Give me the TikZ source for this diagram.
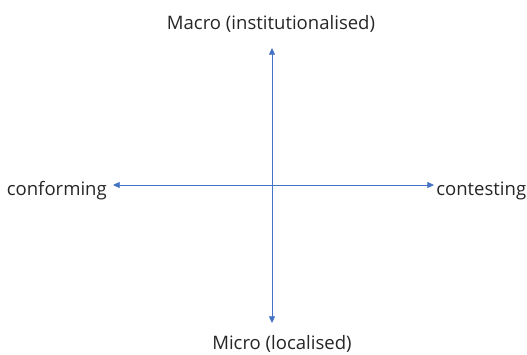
\documentclass[tikz,border=0pt]{standalone}
\usepackage{fontspec}
\setmainfont{Open Sans}
\usetikzlibrary{arrows.meta}
\begin{document}
\begin{tikzpicture}[x=0.75pt,y=-0.75pt,
  axis/.style={draw=axisblue,line width=0.6pt,-{Triangle[length=5pt,width=4.5pt]}},
  lbl/.style={inner sep=0pt,font=\fontsize{13.9}{16}\selectfont,text=black!85}]
\definecolor{axisblue}{HTML}{4472C4}
\useasboundingbox (0,0) rectangle (527,354);
\coordinate (c) at (272,185);
\coordinate (top) at (272,48);
\coordinate (bot) at (272,323);
\coordinate (lft) at (113,185);
\coordinate (rgt) at (434,185);
\draw[axis] (c) -- (top);
\draw[axis] (c) -- (bot);
\draw[axis] (c) -- (lft);
\draw[axis] (c) -- (rgt);
\node[lbl,anchor=base] (macro) at (271,29) {Macro (institutionalised)};
\node[lbl,anchor=base] (micro) at (282,349) {Micro (localised)};
\node[lbl,anchor=base east] (conf) at (107,195) {conforming};
\node[lbl,anchor=base west] (cont) at (436,195) {contesting};
\end{tikzpicture}
\end{document}
